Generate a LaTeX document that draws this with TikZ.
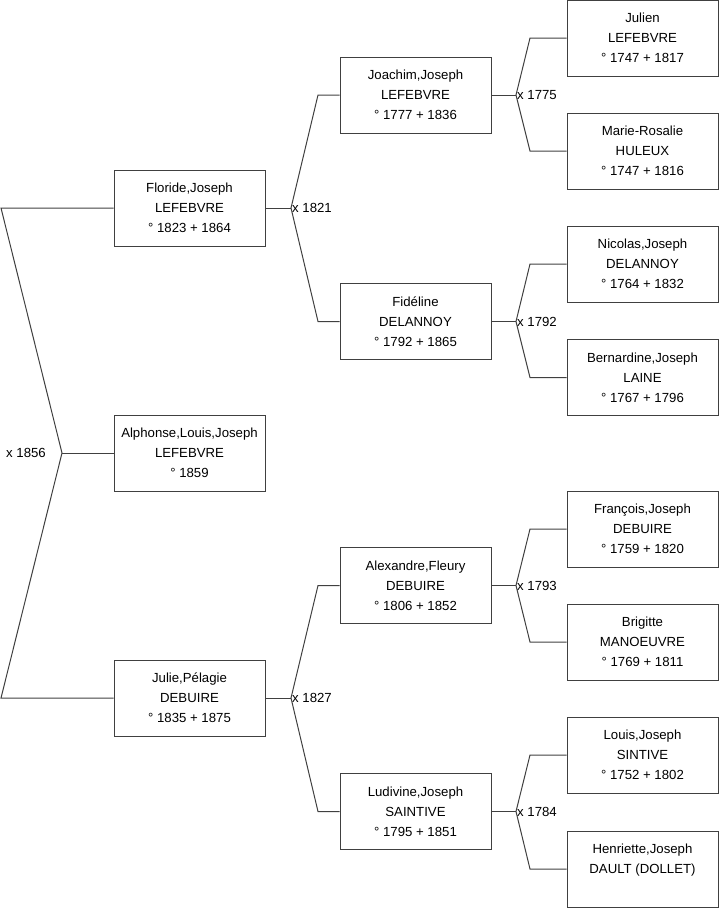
\documentclass[tikz,border=0pt]{standalone}
\usepackage{fontspec}
\setmainfont{Liberation Sans}
\begin{document}
\begin{tikzpicture}[x=1pt,y=-1pt,
  person/.style={draw=black!75, line width=1pt, fill=white, minimum width=151pt, minimum height=76pt, align=center, inner sep=0pt, font=\fontsize{13.2}{20}\selectfont},
  link/.style={draw=black!75, line width=1pt},
  marr/.style={inner sep=1pt, font=\fontsize{13.2}{15}\selectfont}]
\useasboundingbox (0,0) rectangle (719,908);
% generation 1
\node[person] (floride) at (189.5,208) {Floride,Joseph\\LEFEBVRE\\° 1823 + 1864};
\node[person] (alphonse) at (189.5,453) {Alphonse,Louis,Joseph\\LEFEBVRE\\° 1859};
\node[person] (julie) at (189.5,698) {Julie,Pélagie\\DEBUIRE\\° 1835 + 1875};
% generation 2
\node[person] (joachim) at (415.5,95) {Joachim,Joseph\\LEFEBVRE\\° 1777 + 1836};
\node[person] (fideline) at (415.5,321.5) {Fidéline\\DELANNOY\\° 1792 + 1865};
\node[person] (alexandre) at (415.5,585.5) {Alexandre,Fleury\\DEBUIRE\\° 1806 + 1852};
\node[person] (ludivine) at (415.5,811.5) {Ludivine,Joseph\\SAINTIVE\\° 1795 + 1851};
% generation 3
\node[person] (julien) at (642.5,38) {Julien\\LEFEBVRE\\° 1747 + 1817};
\node[person] (marierosalie) at (642.5,151) {Marie-Rosalie\\HULEUX\\° 1747 + 1816};
\node[person] (nicolas) at (642.5,264) {Nicolas,Joseph\\DELANNOY\\° 1764 + 1832};
\node[person] (bernardine) at (642.5,377.5) {Bernardine,Joseph\\LAINE\\° 1767 + 1796};
\node[person] (francois) at (642.5,529) {François,Joseph\\DEBUIRE\\° 1759 + 1820};
\node[person] (brigitte) at (642.5,642) {Brigitte\\MANOEUVRE\\° 1769 + 1811};
\node[person] (louis) at (642.5,755) {Louis,Joseph\\SINTIVE\\° 1752 + 1802};
\node[person] (henriette) at (642.5,869) {Henriette,Joseph\\DAULT (DOLLET)\\\phantom{° 1}};
% root marriage
\coordinate (r0) at (62,453);
\coordinate (ra) at (1,208);
\coordinate (rb) at (1,698);
\draw[link] (floride.west) -- (ra) -- (r0) -- (rb) -- (julie.west);
\draw[link] (r0) -- (alphonse.west);
\node[marr, anchor=east] (m1856) at (47,453) {x 1856};
% generation 1 -> 2
\coordinate (jA) at (291,208);
\coordinate (bA) at (318,208);
\draw[link] (floride.east) -- (jA);
\draw[link] (joachim.west) -- (joachim.west -| bA) -- (jA) -- (fideline.west -| bA) -- (fideline.west);
\node[marr, anchor=west] (m1821) at (jA) {x 1821};
\coordinate (jB) at (291,698);
\coordinate (bB) at (318,698);
\draw[link] (julie.east) -- (jB);
\draw[link] (alexandre.west) -- (alexandre.west -| bB) -- (jB) -- (ludivine.west -| bB) -- (ludivine.west);
\node[marr, anchor=west] (m1827) at (jB) {x 1827};
% generation 2 -> 3
\coordinate (jC) at (516,95);
\coordinate (bC) at (530,95);
\draw[link] (joachim.east) -- (jC);
\draw[link] (julien.west) -- (julien.west -| bC) -- (jC) -- (marierosalie.west -| bC) -- (marierosalie.west);
\node[marr, anchor=west] (m1775) at (jC) {x 1775};
\coordinate (jD) at (516,321.5);
\coordinate (bD) at (530,321.5);
\draw[link] (fideline.east) -- (jD);
\draw[link] (nicolas.west) -- (nicolas.west -| bD) -- (jD) -- (bernardine.west -| bD) -- (bernardine.west);
\node[marr, anchor=west] (m1792) at (jD) {x 1792};
\coordinate (jE) at (516,585.5);
\coordinate (bE) at (530,585.5);
\draw[link] (alexandre.east) -- (jE);
\draw[link] (francois.west) -- (francois.west -| bE) -- (jE) -- (brigitte.west -| bE) -- (brigitte.west);
\node[marr, anchor=west] (m1793) at (jE) {x 1793};
\coordinate (jF) at (516,811.5);
\coordinate (bF) at (530,811.5);
\draw[link] (ludivine.east) -- (jF);
\draw[link] (louis.west) -- (louis.west -| bF) -- (jF) -- (henriette.west -| bF) -- (henriette.west);
\node[marr, anchor=west] (m1784) at (jF) {x 1784};
\end{tikzpicture}
\end{document}
